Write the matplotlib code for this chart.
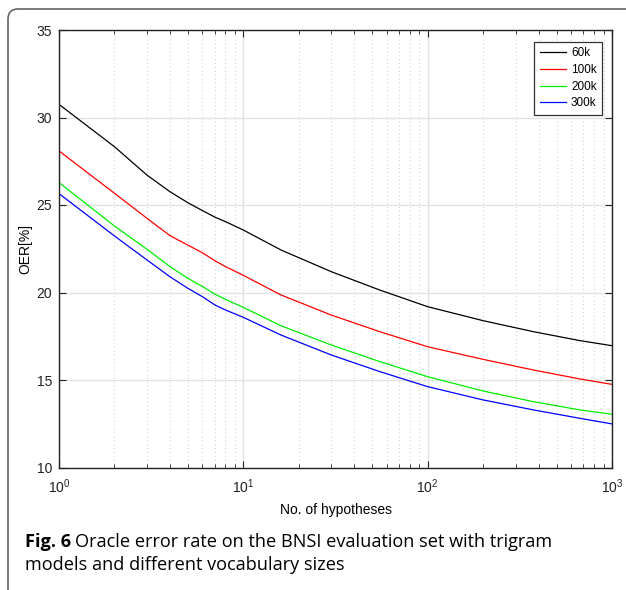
import matplotlib
matplotlib.use("Agg")
import matplotlib.pyplot as plt
from matplotlib.patches import FancyBboxPatch
from matplotlib.transforms import IdentityTransform
from matplotlib.ticker import LogLocator, NullFormatter

plt.rcParams['font.family'] = ['Liberation Sans', 'DejaVu Sans']

# values
n_hyp = [1, 2, 3, 4, 5, 6, 7, 8, 10, 16, 30, 55, 100, 200, 375, 670, 1000]
oer_60k = [30.75, 28.33, 26.71, 25.76, 25.13, 24.68, 24.31, 24.05, 23.57, 22.43,
           21.19, 20.14, 19.19, 18.39, 17.76, 17.25, 16.96]
oer_100k = [28.09, 25.67, 24.24, 23.25, 22.71, 22.27, 21.82, 21.48, 20.98, 19.86,
            18.71, 17.76, 16.90, 16.18, 15.57, 15.06, 14.75]
oer_200k = [26.28, 23.80, 22.47, 21.48, 20.81, 20.34, 19.91, 19.61, 19.15, 18.10,
            17.00, 16.05, 15.19, 14.37, 13.76, 13.29, 13.04]
oer_300k = [25.65, 23.23, 21.86, 20.90, 20.24, 19.76, 19.29, 19.00, 18.58, 17.57,
            16.43, 15.48, 14.62, 13.86, 13.29, 12.81, 12.49]
labels = ['60k', '100k', '200k', '300k']
colors = ['#000000', '#ff0000', '#00ee00', '#0000ff']

W, H = 626, 590
fig = plt.figure(figsize=(W / 100, H / 100), dpi=100)
ax = fig.add_axes([59/W, 1 - 467.5/H, 553/W, 437.5/H])

for ys, lab, c in zip([oer_60k, oer_100k, oer_200k, oer_300k], labels, colors):
    ax.plot(n_hyp, ys, color=c, lw=0.9, label=lab)

ax.set_xscale('log')
ax.set_xlim(1, 1000)
ax.set_ylim(10, 35)
ax.set_yticks([10, 15, 20, 25, 30, 35])
ax.xaxis.set_minor_locator(LogLocator(base=10, subs=range(2, 10)))
ax.xaxis.set_minor_formatter(NullFormatter())
ax.grid(True, which='major', color='#e2e2e2', lw=1.0)
ax.grid(True, which='minor', axis='x', color='#c8c8c8', lw=0.7, ls=(0, (1, 3)))
ax.set_axisbelow(True)
ax.tick_params(which='both', direction='in', top=True, right=True,
               labelsize=10, colors='#222222')
ax.tick_params(axis='y', pad=5)
ax.tick_params(axis='x', pad=7)
ax.tick_params(which='major', length=5)
ax.tick_params(which='minor', length=3)
for s in ax.spines.values():
    s.set_linewidth(1.0)
    s.set_color('#222222')

ax.set_xlabel('No. of hypotheses', fontsize=10, labelpad=5)
ax.set_ylabel('OER[%]', fontsize=10, labelpad=3)

leg = ax.legend(loc='upper right', fontsize=8.5, fancybox=False, framealpha=1,
                edgecolor='#333333', handlelength=2.2, handletextpad=0.45,
                borderpad=0.45, borderaxespad=0, labelspacing=0.4,
                bbox_to_anchor=(1 - 10/553, 1 - 12/437.5))
leg.get_frame().set_linewidth(0.9)

# page frame
frame = FancyBboxPatch((8, -200), 900, H - 9 + 200,
                       boxstyle='round,pad=0,rounding_size=10',
                       transform=IdentityTransform(), fill=False,
                       edgecolor='#666666', lw=1.2)
fig.patches.append(frame)

# caption
cap = ['Open Sans', 'DejaVu Sans']
fs = 13.1
t_bold = fig.text(25/W, 1 - 547/H, 'Fig. 6', fontsize=fs, fontweight='bold',
                  family=cap, va='baseline')
r = fig.canvas.get_renderer()
bb = t_bold.get_window_extent(renderer=r)
fig.text((bb.x1 + 4)/W, 1 - 547/H,
         'Oracle error rate on the BNSI evaluation set with trigram',
         fontsize=fs, family=cap, va='baseline')
fig.text(25/W, 1 - 570/H, 'models and different vocabulary sizes',
         fontsize=fs, family=cap, va='baseline')

fig.savefig('out.png', dpi=100)
